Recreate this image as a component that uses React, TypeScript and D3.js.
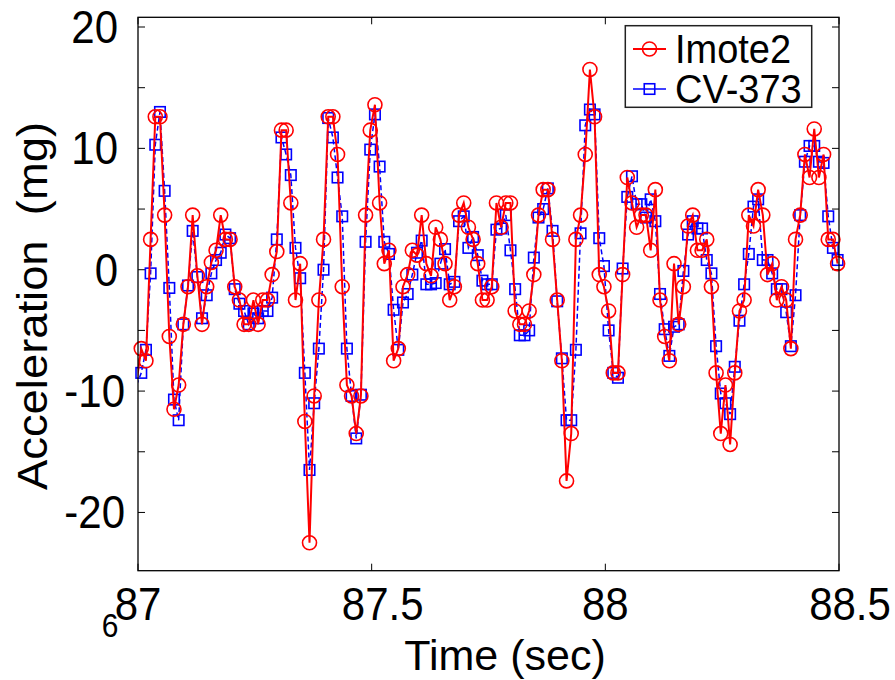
import React from 'react'
import * as d3 from 'd3'

const W = 895
const H = 680

// sampling grid: 100 Hz, first sample just before the left axis limit
const T0 = 86.997
const DT = 0.01

// Imote2 acceleration (mg), one value per sample
const imote2 = [
  -9.2, -6.5, -7.5, 2.5, 12.6, 12.6, 4.5, -5.5, -11.5, -9.5,
  -4.5, -1.4, 4.5, -0.5, -4.5, -1.4, 0.6, 1.6, 4.5, 2.5,
  2.5, -1.4, -2.5, -4.5, -4.5, -2.5, -4.5, -2.5, -2.5, -0.4,
  1.5, 11.5, 11.5, 5.5, -2.5, 0.5, -12.5, -22.5, -10.4, -2.5,
  2.5, 12.6, 12.6, 9.5, -1.4, -9.5, -10.4, -13.5, -10.4, 4.5,
  11.5, 13.6, 5.5, 0.5, 1.6, -7.5, -6.5, -1.4, -0.4, 1.6,
  1.2, 4.5, 0.5, -0.5, 3.5, 2.5, 0.5, -2.5, -1.4, 4.5,
  5.5, 3.5, 2.5, 0.5, -2.5, -2.5, -1.4, 5.5, 3.5, 5.5,
  5.5, -3.4, -4.5, -4.5, -3.4, -0.4, 4.5, 6.6, 6.6, 2.5,
  -2.5, -7.5, -17.4, -13.5, 2.5, 4.5, 9.5, 16.5, 12.6, -0.4,
  -1.4, -3.4, -8.5, -8.5, -0.4, 7.6, 5.5, 3.5, 4.5, 4.5,
  1.6, 6.6, -2.5, -5.5, -7.5, 0.5, -4.5, -1.4, 3.6, 4.5,
  1.6, 1.6, 2.5, -1.4, -8.5, -13.5, -9.5, -14.4, -8.5, -3.4,
  -2.5, 4.5, 3.6, 6.6, 4.5, -0.4, 0.5, -2.5, -1.4, -2.5,
  -6.5, 2.5, 4.5, 9.5, 7.6, 11.6, 7.6, 9.5, 2.5, 2.5, 0.5,
]

// CV-373 reference accelerometer (mg)
const cv373 = [
  -9.5, -8.5, -6.6, -0.3, 10.3, 13.0, 6.5, -1.5, -10.7, -12.4,
  -4.5, -1.3, 3.2, -0.6, -4.0, -2.1, -0.3, 0.8, 1.4, 2.9,
  2.6, -1.6, -2.8, -3.4, -4.5, -3.6, -4.0, -3.4, -3.4, -2.3,
  2.5, 10.9, 9.5, 7.8, 1.8, -0.7, -8.5, -16.5, -11.0, -6.5,
  0.0, 12.5, 10.9, 7.6, 4.4, -6.5, -10.4, -13.9, -10.3, 2.3,
  9.9, 12.8, 8.5, 2.3, 1.3, -3.3, -6.6, -2.7, -2.0, -0.4,
  1.4, 2.4, -1.2, -1.2, -1.1, 0.5, 1.7, -1.2, -1.0, 4.0,
  4.4, 1.8, 2.7, 1.2, -0.9, -1.2, -1.2, 3.3, 3.4, 4.5,
  1.6, -1.6, -5.4, -5.4, -5.0, 1.0, 4.3, 5.0, 6.7, 3.2,
  -2.6, -7.3, -12.4, -12.4, -6.6, 3.0, 11.9, 13.2, 12.8, 2.6,
  0.3, -5.0, -8.5, -8.9, 0.1, 6.0, 7.7, 5.4, 5.4, 4.3,
  5.8, 4.0, -2.0, -4.9, -7.1, -4.7, -4.5, -0.1, 2.9, 4.0,
  3.4, 3.4, 0.8, -0.3, -6.3, -10.2, -11.0, -11.9, -8.0, -4.2,
  -1.2, 1.3, 5.2, 5.8, 0.8, 0.8, -0.3, -1.6, -1.6, -3.5,
  -6.3, -2.1, 4.5, 8.9, 10.2, 10.2, 8.9, 8.8, 4.4, 1.8, 0.8,
]

const xTicks = [87, 87.5, 88, 88.5]
const xTickLabels = ['87', '87.5', '88', '88.5']
const yTicks = [-20, -15, -10, -5, 0, 5, 10, 15, 20]
const yTickLabels = ['-20', '', '-10', '', '0', '', '10', '', '20']
const seriesNames = ['Imote2', 'CV-373']

const FONT = '"Liberation Sans", Arial, Helvetica, sans-serif'
const SY = 1.08 // the figure text is slightly taller than wide

function Txt({ x, y, size, anchor = 'start', rotate = 0, sy = SY, children }: any) {
  return (
    <text
      transform={`translate(${x},${y}) scale(1,${sy})${rotate ? ` rotate(${rotate})` : ''}`}
      fontFamily={FONT}
      fontSize={size}
      textAnchor={anchor}
      fill="#000"
    >
      {children}
    </text>
  )
}

export default function App() {
  const margin = { left: 138, right: W - 839, top: 17.3, bottom: H - 570.7 }
  const x = d3.scaleLinear().domain([87, 88.5]).range([margin.left, W - margin.right])
  const y = d3.scaleLinear().domain([-24.8, 20.8]).range([H - margin.bottom, margin.top])
  const [x0, x1] = x.range()
  const [y0, y1] = y.range()

  const toPts = (vals: number[]) => vals.map((v, i) => ({ t: T0 + i * DT, v }))
  const red = toPts(imote2)
  const blue = toPts(cv373)
  const inside = (d: { t: number }) => d.t >= 87 && d.t <= 88.5

  const line = d3.line<{ t: number; v: number }>().x(d => x(d.t)).y(d => y(d.v))
  const sq = 10.5
  const tl = 7

  const legend = { x: 625.3, y: 25.7, w: 186.4, h: 81.6 }

  return (
    <svg width={W} height={H} style={{ position: 'absolute', left: 0, top: 0, background: '#fff' }}>
      <defs>
        <clipPath id="plot">
          <rect x={x0} y={y1} width={x1 - x0} height={y0 - y1} />
        </clipPath>
      </defs>
      <rect width={W} height={H} fill="#fff" />

      {/* ticks, inward on all four sides */}
      <g stroke="#000" strokeWidth={1}>
        {xTicks.map(t => (
          <g key={'x' + t}>
            <line x1={x(t)} x2={x(t)} y1={y0} y2={y0 - tl} />
            <line x1={x(t)} x2={x(t)} y1={y1} y2={y1 + tl} />
          </g>
        ))}
        {yTicks.map(t => (
          <g key={'y' + t}>
            <line x1={x0} x2={x0 + tl} y1={y(t)} y2={y(t)} />
            <line x1={x1} x2={x1 - tl} y1={y(t)} y2={y(t)} />
          </g>
        ))}
      </g>

      {/* data */}
      <g clipPath="url(#plot)">
        <path d={line(blue) || ''} fill="none" stroke="#0000ff" strokeWidth={1.5} strokeDasharray="5,3" />
      </g>
      <g fill="none" stroke="#0000ff" strokeWidth={1.6}>
        {blue.filter(inside).map((d, i) => (
          <rect key={i} x={x(d.t) - sq / 2} y={y(d.v) - sq / 2} width={sq} height={sq} />
        ))}
      </g>
      <g clipPath="url(#plot)">
        <path d={line(red) || ''} fill="none" stroke="#ff0000" strokeWidth={2} />
      </g>
      <g fill="none" stroke="#ff0000" strokeWidth={1.6}>
        {red.filter(inside).map((d, i) => (
          <circle key={i} cx={x(d.t)} cy={y(d.v)} r={7} />
        ))}
      </g>

      {/* axes box */}
      <rect x={x0} y={y1} width={x1 - x0} height={y0 - y1} fill="none" stroke="#000" strokeWidth={1.3} />

      {/* tick labels */}
      {yTicks.map((t, i) =>
        yTickLabels[i] ? (
          <Txt key={'yl' + t} x={t < 0 ? 125 : 118} y={y(t) + 16} size={42} anchor="end">
            {yTickLabels[i]}
          </Txt>
        ) : null
      )}
      {xTicks.map((t, i) => (
        <Txt key={'xl' + t} x={x(t) + (xTickLabels[i].includes('.') ? 11 : 0)} y={620} size={42} anchor="middle">
          {xTickLabels[i]}
        </Txt>
      ))}
      <Txt x={110} y={637} size={30} anchor="middle">6</Txt>

      {/* axis titles */}
      <Txt x={505} y={670} size={43} anchor="middle" sy={1}>Time (sec)</Txt>
      <Txt x={47} y={306} size={42} anchor="middle" rotate={-90}>{'Acceleration\u00a0\u00a0(mg)'}</Txt>

      {/* legend */}
      <rect x={legend.x} y={legend.y} width={legend.w} height={legend.h} fill="#fff" stroke="#222" strokeWidth={1.5} />
      {seriesNames.map((name, i) => {
        const cy = 49 + i * 40
        const color = i === 0 ? '#ff0000' : '#0000ff'
        return (
          <g key={name}>
            <line x1={633} x2={666} y1={cy} y2={cy} stroke={color} strokeWidth={i === 0 ? 2 : 1.5} />
            {i === 0 ? (
              <circle cx={649.5} cy={cy} r={7} fill="none" stroke={color} strokeWidth={1.6} />
            ) : (
              <rect x={649.5 - sq / 2} y={cy - sq / 2} width={sq} height={sq} fill="none" stroke={color} strokeWidth={1.6} />
            )}
            <Txt x={675} y={cy + 14} size={38}>{name}</Txt>
          </g>
        )
      })}
    </svg>
  )
}
